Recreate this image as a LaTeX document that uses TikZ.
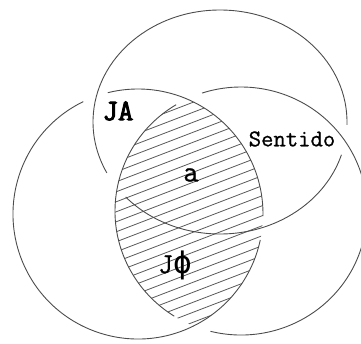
\documentclass[tikz,border=0pt]{standalone}
\usepackage{fontspec}
\newfontfamily\labelfont{Latin Modern Mono}[UprightFeatures={FakeBold=0.8}]
\newfontfamily\headfont{Latin Modern Mono}[UprightFeatures={FakeBold=3}]
\newfontfamily\phifont{DejaVu Sans Mono}
\usepackage{tikz}

\begin{document}
\begin{tikzpicture}[x=1pt, y=1pt,
    ring/.style={draw=black!70, line width=0.9pt},
    hatchline/.style={draw=black!65, line width=0.8pt}]
  \useasboundingbox (0,0) rectangle (361,343);
  \coordinate (cl) at (138,129);
  \coordinate (cr) at (241,132);
  \coordinate (ct) at (220,221);

  % hatching in the overlap of the two lower rings
  \begin{scope}
    \clip (cl) circle[radius=125];
    \clip (cr) ellipse[x radius=126, y radius=124];
    \foreach \k in {-5,...,25}
      \draw[hatchline] (100,\k*10+5) -- ++(21:200);
  \end{scope}

  % left ring
  \draw[ring] (cl) ++(116:125) arc[start angle=116, end angle=348, radius=125];
  \draw[ring] (cl) ++(-1:125) arc[start angle=-1, end angle=104, radius=125];
  % right ring
  \draw[ring] (cr) ++({126*cos(121)},{124*sin(121)})
    arc[start angle=121, end angle=238, x radius=126, y radius=124];
  \draw[ring] (cr) ++({126*cos(256)},{124*sin(256)})
    arc[start angle=256, end angle=468, x radius=126, y radius=124];
  % top ring
  \draw[ring] (ct) ++({127*cos(-1.5)},{112*sin(-1.5)})
    arc[start angle=-1.5, end angle=207, x radius=127, y radius=112];
  \draw[ring] (ct) ++({127*cos(222)},{112*sin(222)})
    arc[start angle=222, end angle=343, x radius=127, y radius=112];

  \node[font=\headfont\fontsize{30}{30}\selectfont] (ja) at (118,232) {JA};
  \node[font=\labelfont\fontsize{24}{24}\selectfont] (sentido) at (292,204) {Sentido};
  \node[font=\labelfont\fontsize{30}{30}\selectfont] (a) at (191,168) {a};
  \node[font=\labelfont\fontsize{29}{29}\selectfont] (jphi) at (175,78)
    {J{\phifont\fontsize{31}{31}\selectfont ϕ}};
\end{tikzpicture}
\end{document}
